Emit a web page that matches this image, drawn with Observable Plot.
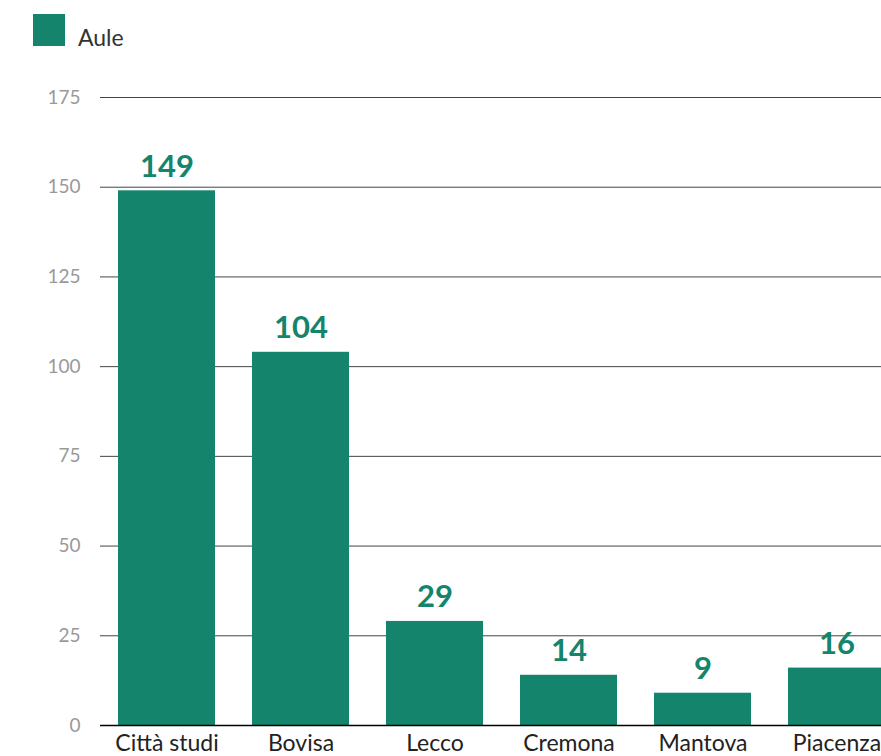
<!DOCTYPE html>
<html>
<head>
<meta charset="utf-8">
<script src="https://cdn.jsdelivr.net/npm/d3@7"></script>
<script src="https://cdn.jsdelivr.net/npm/@observablehq/plot@0.6"></script>
<style>
  html, body { margin: 0; padding: 0; background: #fff; }
  #wrap { width: 881px; height: 756px; overflow: hidden; position: relative; font-family: Lato, "Noto Sans", sans-serif; }
  #legend { height: 60px; position: relative; }
  #legend .sw { position: absolute; left: 33px; top: 14px; width: 32px; height: 32px; background: #15846c; }
  #legend .lb { position: absolute; left: 78px; top: 23px; font-size: 23px; line-height: 28px; color: #333; }
  svg { max-width: none !important; }
</style>
</head>
<body>
<div id="wrap">
  <div id="legend"><div class="sw"></div><div class="lb">Aule</div></div>
  <div id="chart"></div>
</div>
<script>
const categories = ["Città studi", "Bovisa", "Lecco", "Cremona", "Mantova", "Piacenza"];
const values = [149, 104, 29, 14, 9, 16];
const yTicks = [0, 25, 50, 75, 100, 125, 150, 175];
const seriesName = "Aule";

const data = categories.map((c, i) => ({sede: c, aule: values[i]}));
const teal = "#15846c";

const chart = Plot.plot({
  width: 910,
  height: 696,
  marginLeft: 100,
  marginRight: 6,
  marginTop: 37,
  marginBottom: 31,
  style: {fontFamily: "Lato, 'Noto Sans', sans-serif", background: "#fff", overflow: "visible"},
  x: {domain: categories, paddingInner: 0.276, paddingOuter: 0.138, label: null},
  y: {domain: [0, 175], label: null},
  marks: [
    Plot.ruleY(yTicks.filter(d => d > 0), {stroke: "#444", strokeWidth: 1, strokeOpacity: 1}),
    Plot.barY(data, {x: "sede", y: "aule", fill: teal}),
    Plot.ruleY([0], {stroke: "#000", strokeWidth: 1.5}),
    Plot.text(data, {x: "sede", y: "aule", text: d => String(d.aule), dy: -14, lineAnchor: "bottom", fill: teal, fontWeight: "bold", fontSize: 31}),
    Plot.axisY({ticks: yTicks, tickSize: 0, tickPadding: 20, fontSize: 19, label: null, fill: "#999"}),
    Plot.axisX({tickSize: 0, tickPadding: 9, fontSize: 23, fill: "#222", label: null})
  ]
});
document.getElementById("chart").appendChild(chart);
</script>
</body>
</html>
